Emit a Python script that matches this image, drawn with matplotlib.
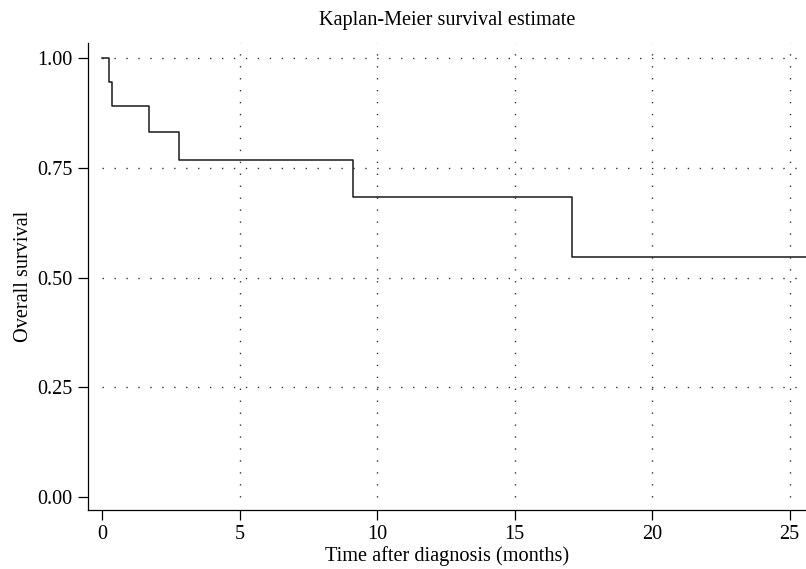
import matplotlib
matplotlib.use("Agg")
import matplotlib.pyplot as plt

# survival step function
times = [0.0, 0.25, 0.38, 1.71, 2.81, 9.13, 17.09, 25.6]
surv = [1.0, 0.947, 0.891, 0.833, 0.768, 0.683, 0.547, 0.547]

xticks = [0, 5, 10, 15, 20, 25]
yticks = [0.0, 0.25, 0.5, 0.75, 1.0]
ytick_labels = ["0.00", "0.25", "0.50", "0.75", "1.00"]

plt.rcParams['font.family'] = ['Liberation Serif', 'DejaVu Serif']
fs = 14.6

fig = plt.figure(figsize=(8.06, 5.69), dpi=100)
ax = fig.add_axes([0.1092, 0.1037, 0.8908, 0.8207])

xmin, xmax = -0.51, 25.6
ymin, ymax = -0.030, 1.035

# dotted grid
dot = (0, (1, 7.6))
for y in yticks[1:]:
    ax.hlines(y, 0, xmax, colors='#333333', linestyles=dot, lw=1.0, zorder=1)
for x in xticks[1:]:
    ax.vlines(x, 0, ymax, colors='#333333', linestyles=dot, lw=1.0, zorder=1)

ax.step(times, surv, where='post', color='#1a1a1a', lw=1.1, zorder=3)

ax.set_xlim(xmin, xmax)
ax.set_ylim(ymin, ymax)
ax.set_xticks(xticks)
ax.set_yticks(yticks)
ax.set_yticklabels(ytick_labels)

for s in ['top', 'right']:
    ax.spines[s].set_visible(False)
for s in ['left', 'bottom']:
    ax.spines[s].set_linewidth(0.9)
    ax.spines[s].set_color('black')

ax.tick_params(axis='both', direction='out', length=7, width=0.9,
               labelsize=fs, pad=4, colors='black')
ax.tick_params(axis='x', pad=4)

ax.set_xlabel('Time after diagnosis (months)', fontsize=fs, labelpad=1)
ax.set_ylabel('Overall survival', fontsize=fs, labelpad=3)
ax.set_title('Kaplan-Meier survival estimate', fontsize=fs, pad=13)

fig.savefig('out.png', dpi=100)
